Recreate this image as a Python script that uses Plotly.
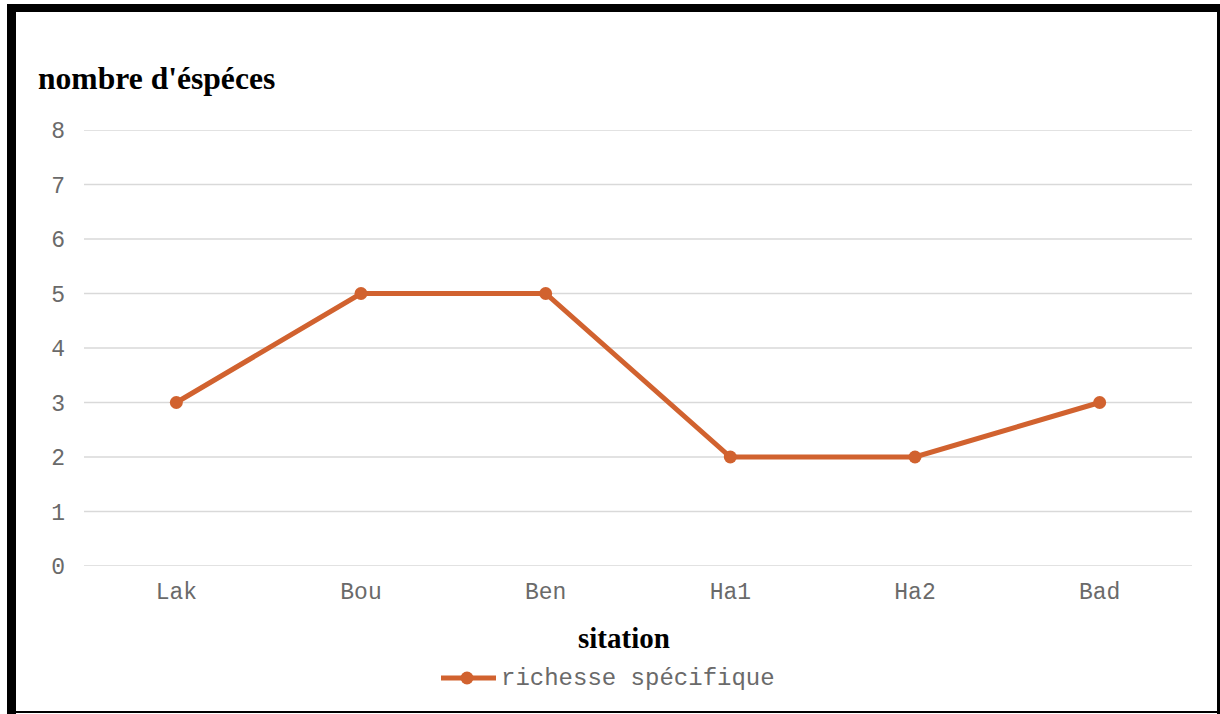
import plotly.graph_objects as go

# Species richness per station
stations = ["Lak", "Bou", "Ben", "Ha1", "Ha2", "Bad"]
richesse = [3, 5, 5, 2, 2, 3]
y_ticks = [0, 1, 2, 3, 4, 5, 6, 7, 8]
series_name = "richesse spécifique"

W, H = 1220, 714
ML, MR, MT, MB = 84, 28, 130, 148
PW, PH = W - ML - MR, H - MT - MB

ORANGE = "#D1622F"
GRID = "#D9D9D9"
TICK = "#6A6A6A"
MONO = "Courier New, Liberation Mono, monospace"
SERIF = "Times New Roman, Liberation Serif, serif"


def px_x(px):
    return (px - ML) / PW


def px_y(py):
    return (H - MB - py) / PH


fig = go.Figure()
fig.add_trace(go.Scatter(
    x=stations, y=richesse, mode="lines+markers",
    name=series_name, showlegend=False,
    line=dict(color=ORANGE, width=5),
    marker=dict(color=ORANGE, size=13),
))

shapes = []
# horizontal gridlines, including the ones on the plot edges
for v in y_ticks:
    shapes.append(dict(type="line", xref="paper", yref="y", x0=0, x1=1,
                       y0=v, y1=v, line=dict(color=GRID, width=1.5),
                       layer="below"))

# frame around the chart
frame = [
    (7, 4, 16, 714),
    (7, 4, 1220, 12),
    (1217, 4, 1220, 714),
    (7, 711, 1220, 713),
]
for x0, y0, x1, y1 in frame:
    shapes.append(dict(type="rect", xref="paper", yref="paper",
                       x0=px_x(x0), x1=px_x(x1), y0=px_y(y1), y1=px_y(y0),
                       fillcolor="black", line=dict(width=0), layer="above"))

# legend key: line with a dot in the middle
shapes.append(dict(type="line", xref="paper", yref="paper",
                   x0=px_x(441), x1=px_x(496), y0=px_y(678), y1=px_y(678),
                   line=dict(color=ORANGE, width=5)))
shapes.append(dict(type="circle", xref="paper", yref="paper",
                   x0=px_x(460.5), x1=px_x(473.5), y0=px_y(684.5), y1=px_y(671.5),
                   fillcolor=ORANGE, line=dict(width=0)))

fig.update_layout(
    width=W, height=H,
    margin=dict(l=ML, r=MR, t=MT, b=MB),
    paper_bgcolor="white", plot_bgcolor="white",
    showlegend=False,
    xaxis=dict(
        range=[-0.5, 5.5], showgrid=False, zeroline=False, showline=False,
        ticks="", tickfont=dict(family=MONO, size=23, color=TICK),
        ticklabelstandoff=9,
    ),
    yaxis=dict(
        range=[0, 8], tickvals=y_ticks, showgrid=False,
        zeroline=False, showline=False, ticks="",
        tickfont=dict(family=MONO, size=23, color=TICK),
        ticklabelstandoff=18,
    ),
    shapes=shapes,
    annotations=[
        dict(text="<b>nombre d'éspéces</b>", xref="paper", yref="paper",
             x=px_x(36), y=px_y(78), xanchor="left", yanchor="middle",
             showarrow=False, font=dict(family=SERIF, size=31.6, color="black")),
        dict(text="<b>sitation</b>", xref="paper", yref="paper",
             x=px_x(624), y=px_y(638), xanchor="center", yanchor="middle",
             showarrow=False, font=dict(family=SERIF, size=29, color="black")),
        dict(text=series_name, xref="paper", yref="paper",
             x=px_x(499), y=px_y(678), xanchor="left", yanchor="middle",
             showarrow=False, font=dict(family=MONO, size=24, color=TICK)),
    ],
)

fig.write_html("out.html")
